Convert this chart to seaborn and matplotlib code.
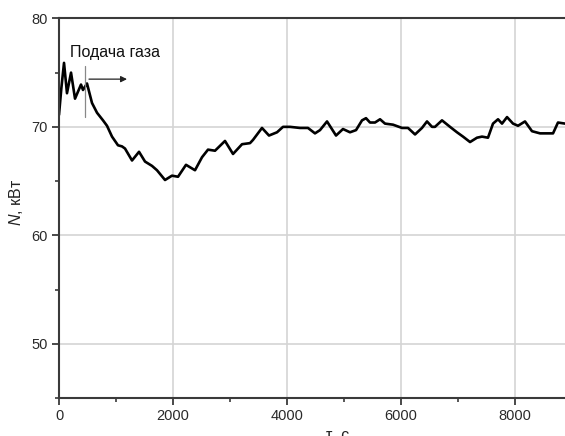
import matplotlib
matplotlib.use("Agg")
import matplotlib.pyplot as plt
import seaborn as sns
import pandas as pd
from matplotlib.ticker import MultipleLocator

# time, s
t = [0, 40, 88, 140, 211, 281, 386, 421, 491, 579, 667, 772, 842, 930, 1035,
     1105, 1158, 1281, 1404, 1509, 1632, 1719, 1860, 1982, 2088, 2228, 2386,
     2509, 2614, 2737, 2912, 3053, 3211, 3351, 3404, 3561, 3684, 3825, 3930,
     4053, 4228, 4368, 4491, 4579, 4702, 4860, 4982, 5105, 5211, 5316, 5386,
     5456, 5544, 5632, 5719, 5860, 6018, 6123, 6246, 6368, 6456, 6544, 6596,
     6719, 6860, 6982, 7088, 7211, 7333, 7421, 7526, 7614, 7702, 7772, 7860,
     7965, 8053, 8175, 8298, 8439, 8579, 8667, 8754, 8877]
# power, kW
n = [71.1, 73.5, 75.9, 73.1, 75.0, 72.6, 73.9, 73.4, 74.0, 72.2, 71.3, 70.6,
     70.1, 69.1, 68.3, 68.2, 68.0, 66.9, 67.7, 66.8, 66.4, 66.0, 65.1, 65.5,
     65.4, 66.5, 66.0, 67.2, 67.9, 67.8, 68.7, 67.5, 68.4, 68.5, 68.8, 69.9,
     69.2, 69.5, 70.0, 70.0, 69.9, 69.9, 69.4, 69.7, 70.5, 69.2, 69.8, 69.5,
     69.7, 70.6, 70.8, 70.4, 70.4, 70.7, 70.3, 70.2, 69.9, 69.9, 69.3, 69.9,
     70.5, 70.0, 70.0, 70.6, 70.0, 69.5, 69.1, 68.6, 69.0, 69.1, 69.0, 70.3,
     70.7, 70.3, 70.9, 70.3, 70.1, 70.5, 69.6, 69.4, 69.4, 69.4, 70.4, 70.3]

x_ticks = [0, 2000, 4000, 6000, 8000]
y_ticks = [50, 60, 70, 80]
annot_text = "Подача газа"
gas_start = 460
arrow_x = [526, 1193]
arrow_y = 74.4

sns.set_theme(style="white")
plt.rcParams['font.family'] = ['Liberation Sans', 'DejaVu Sans']
plt.rcParams['mathtext.fontset'] = 'custom'
plt.rcParams['mathtext.it'] = 'Liberation Sans:italic'
plt.rcParams['mathtext.rm'] = 'Liberation Sans'

df = pd.DataFrame({"t": t, "N": n})

fig = plt.figure(figsize=(5.65, 4.36), dpi=100)
ax = fig.add_axes([59/565, 1 - 398/436, 1 - 59/565, (398 - 18.4)/436])

sns.lineplot(data=df, x="t", y="N", ax=ax, color="black", linewidth=1.9)

ax.set_xlim(0, 8877)
ax.set_ylim(45, 80)
ax.set_xticks(x_ticks)
ax.set_yticks(y_ticks)
ax.xaxis.set_minor_locator(MultipleLocator(1000))
ax.yaxis.set_minor_locator(MultipleLocator(5))
ax.grid(True, which="major", color="#d4d4d4", linewidth=1.2)
ax.set_axisbelow(True)

for s in ["left", "bottom", "top"]:
    ax.spines[s].set_color("#3a3a3a")
    ax.spines[s].set_linewidth(1.5)
ax.spines["right"].set_visible(False)

ax.tick_params(axis="both", which="major", direction="out", length=5,
               width=1.3, color="#3a3a3a", labelsize=10.5, labelcolor="#2a2a2a",
               bottom=True, left=True, pad=3)
ax.tick_params(axis="both", which="minor", direction="out", length=3,
               width=1.2, color="#3a3a3a", bottom=True, left=True)

ax.set_xlabel("τ, c", fontsize=11.5, color="#222222", va="top")
ax.xaxis.set_label_coords(0.55, -0.079)
ax.set_ylabel("$N$, кВт", fontsize=11.5, color="#222222")
ax.yaxis.set_label_coords(-0.067, 0.514)

# gas supply annotation
ax.plot([gas_start, gas_start], [70.9, 75.6], color="#888888", linewidth=0.9)
ax.annotate("", xy=(arrow_x[1], arrow_y), xytext=(arrow_x[0], arrow_y),
            arrowprops=dict(arrowstyle="-|>", color="#222222", lw=0.9,
                            mutation_scale=9, shrinkA=0, shrinkB=0))
ax.text(193, 76.9, annot_text, fontsize=11.5, color="#111111",
        ha="left", va="center")

fig.savefig("out.png", dpi=100)
